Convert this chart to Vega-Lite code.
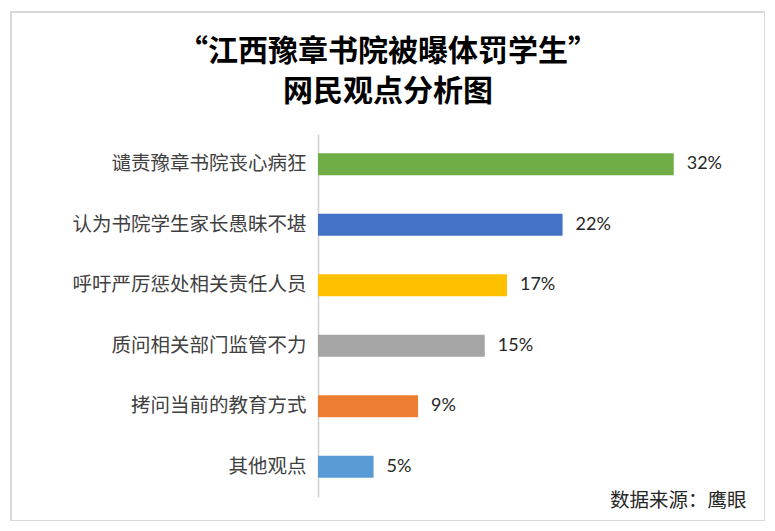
{
  "$schema": "https://vega.github.io/schema/vega-lite/v6.json",
  "autosize": {"type": "none"},
  "padding": {"left": 11, "top": 12, "right": 0, "bottom": 0},
  "width": 754,
  "height": 509,
  "background": "#ffffff",
  "config": {
    "view": {"stroke": "#d9d9d9", "strokeWidth": 2},
    "font": "Noto Sans CJK SC"
  },
  "title": {
    "text": ["“江西豫章书院被曝体罚学生”", "网民观点分析图"],
    "font": "Noto Sans CJK SC",
    "fontSize": 30,
    "fontWeight": "bold",
    "color": "#000000",
    "lineHeight": 40,
    "anchor": "middle",
    "frame": "group",
    "baseline": "top",
    "offset": 0,
    "dy": 95
  },
  "data": {
    "values": [
      {"cat": "谴责豫章书院丧心病狂", "value": 0.32},
      {"cat": "认为书院学生家长愚昧不堪", "value": 0.22},
      {"cat": "呼吁严厉惩处相关责任人员", "value": 0.17},
      {"cat": "质问相关部门监管不力", "value": 0.15},
      {"cat": "拷问当前的教育方式", "value": 0.09},
      {"cat": "其他观点", "value": 0.05}
    ]
  },
  "encoding": {
    "y": {
      "field": "cat",
      "type": "nominal",
      "sort": null,
      "scale": {"range": [122, 485], "paddingInner": 0.636, "paddingOuter": 0.318},
      "axis": {
        "title": null,
        "offset": -307,
        "ticks": false,
        "domainColor": "#d0d0d0",
        "domainWidth": 1.5,
        "labelFont": "Noto Sans CJK SC",
        "labelFontSize": 19.5,
        "labelColor": "#404040",
        "labelPadding": 12,
        "labelLimit": 400
      }
    },
    "x": {
      "field": "value",
      "type": "quantitative",
      "scale": {"domain": [0, 0.385], "range": [307, 735]},
      "axis": {
        "title": "数据来源：鹰眼",
        "titleAnchor": "end",
        "titleAlign": "right",
        "titleBaseline": "middle",
        "titleFont": "Noto Sans CJK SC",
        "titleFontSize": 19.5,
        "titleFontWeight": "normal",
        "titleColor": "#262626",
        "titlePadding": 0,
        "offset": -21,
        "domain": false,
        "ticks": false,
        "labels": false,
        "grid": false
      }
    }
  },
  "layer": [
    {
      "mark": {"type": "bar"},
      "encoding": {
        "color": {
          "field": "cat",
          "type": "nominal",
          "scale": {
            "domain": ["谴责豫章书院丧心病狂", "认为书院学生家长愚昧不堪", "呼吁严厉惩处相关责任人员", "质问相关部门监管不力", "拷问当前的教育方式", "其他观点"],
            "range": ["#70AD47", "#4472C4", "#FFC000", "#A5A5A5", "#ED7D31", "#5B9BD5"]
          },
          "legend": null
        }
      }
    },
    {
      "mark": {"type": "text", "align": "left", "baseline": "middle", "dx": 13, "font": "Lato", "fontSize": 18, "color": "#262626"},
      "encoding": {
        "text": {"field": "value", "type": "quantitative", "format": ".0%"}
      }
    }
  ]
}
